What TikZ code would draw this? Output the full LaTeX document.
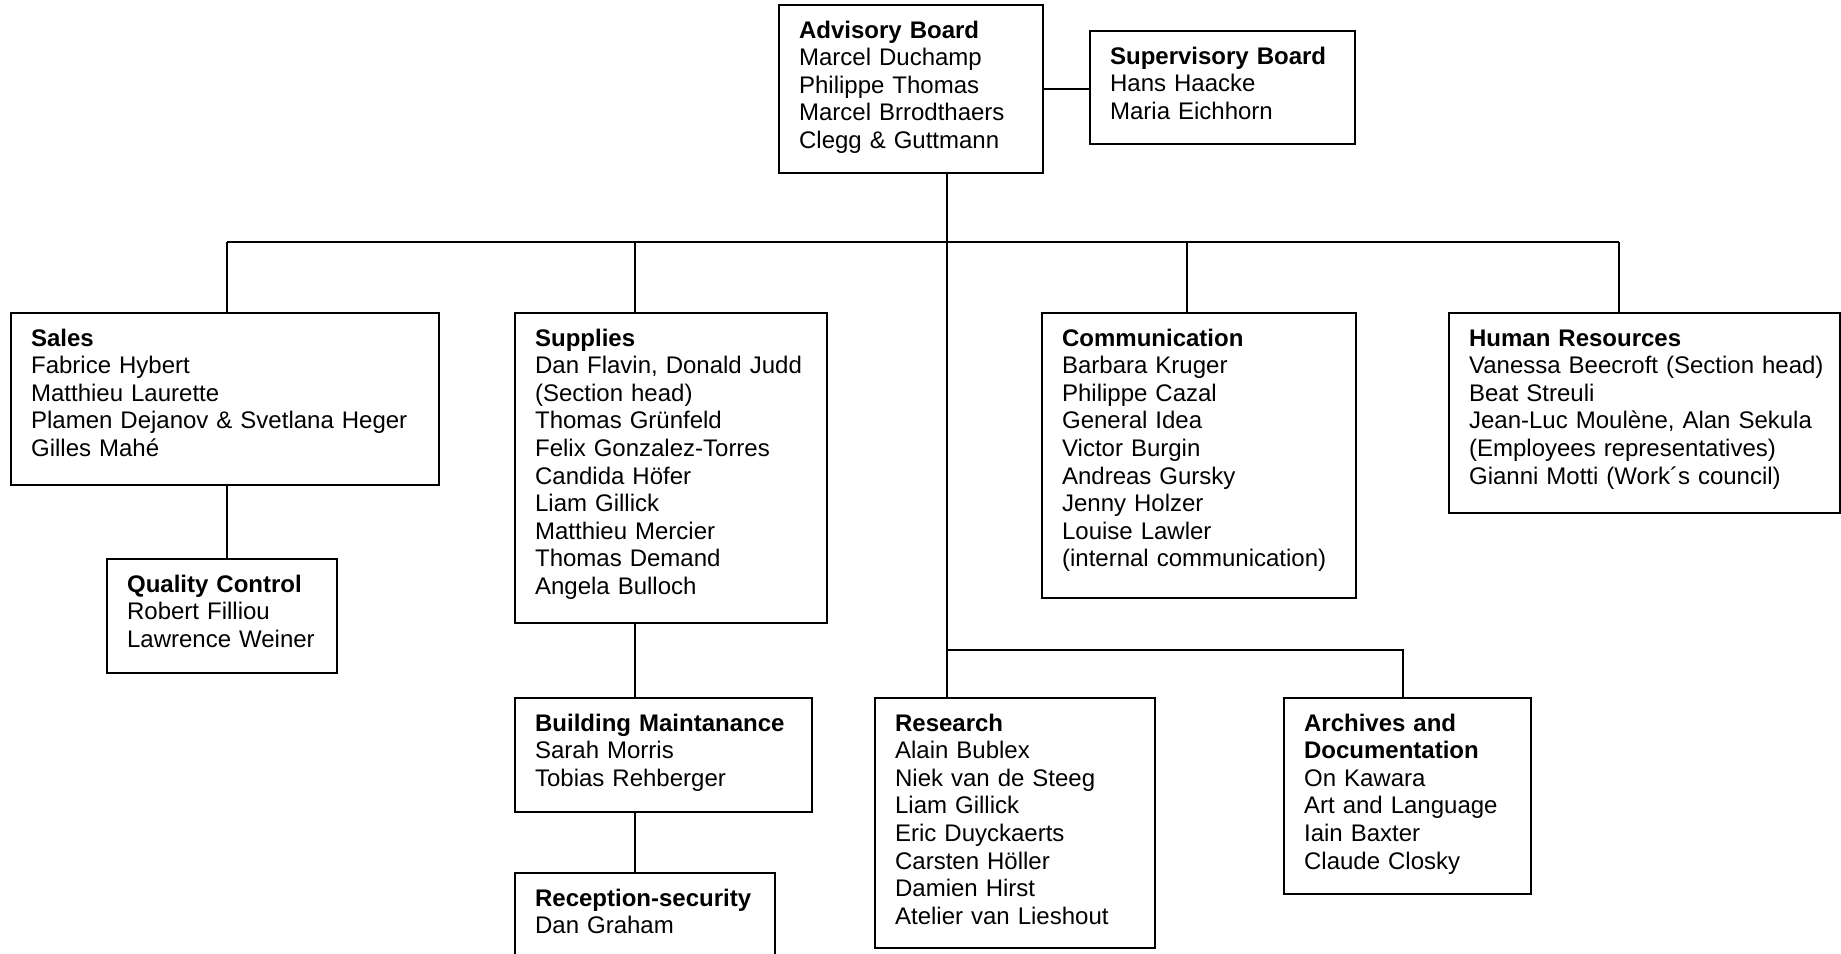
\documentclass[tikz,border=0pt]{standalone}
\usepackage{fontspec}
\setmainfont{Liberation Sans}
\usetikzlibrary{fit}
\begin{document}
\begin{tikzpicture}[x=0.5pt,y=-0.5pt,
    box/.style={draw,line width=0.9pt,inner sep=0pt,rectangle},
    txt/.style={anchor=base west,inner sep=0pt,text width=200pt,align=left,
      font=\fontsize{12pt}{13.8pt}\selectfont},
    link/.style={line width=0.7pt}]
    \useasboundingbox (0,0) rectangle (1841,953);
    \clip (0,0) rectangle (1841,953);
    % boxes
    \node[box,fit={(779,5) (1043,173)}] (adv) {};
    \node[box,fit={(1090,31) (1355,144)}] (sup) {};
    \node[box,fit={(11,313) (439,485)}] (sales) {};
    \node[box,fit={(515,313) (827,623)}] (supp) {};
    \node[box,fit={(1042,313) (1356,598)}] (comm) {};
    \node[box,fit={(1449,313) (1840,513)}] (hr) {};
    \node[box,fit={(107,559) (337,673)}] (qc) {};
    \node[box,fit={(515,698) (812,812)}] (bm) {};
    \node[box,fit={(515,873) (775,980)}] (rec) {};
    \node[box,fit={(875,698) (1155,948)}] (res) {};
    \node[box,fit={(1284,698) (1531,894)}] (arch) {};
    % texts
    \node[txt] (adv-t) at ([shift={(10.3pt,-17pt)}]adv.north west) {\textbf{Advisory Board}\\Marcel Duchamp\\Philippe Thomas\\Marcel Brrodthaers\\Clegg \& Guttmann};
    \node[txt] (sup-t) at ([shift={(10.3pt,-17pt)}]sup.north west) {\textbf{Supervisory Board}\\Hans Haacke\\Maria Eichhorn};
    \node[txt] (sales-t) at ([shift={(10.3pt,-17pt)}]sales.north west) {\textbf{Sales}\\Fabrice Hybert\\Matthieu Laurette\\Plamen Dejanov \& Svetlana Heger\\Gilles Mahé};
    \node[txt] (supp-t) at ([shift={(10.3pt,-17pt)}]supp.north west) {\textbf{Supplies}\\Dan Flavin, Donald Judd\\(Section head)\\Thomas Grünfeld\\Felix Gonzalez-Torres\\Candida Höfer\\Liam Gillick\\Matthieu Mercier\\Thomas Demand\\Angela Bulloch};
    \node[txt] (comm-t) at ([shift={(10.3pt,-17pt)}]comm.north west) {\textbf{Communication}\\Barbara Kruger\\Philippe Cazal\\General Idea\\Victor Burgin\\Andreas Gursky\\Jenny Holzer\\Louise Lawler\\(internal communication)};
    \node[txt] (hr-t) at ([shift={(10.3pt,-17pt)}]hr.north west) {\textbf{Human Resources}\\Vanessa Beecroft (Section head)\\Beat Streuli\\Jean-Luc Moulène, Alan Sekula\\(Employees representatives)\\Gianni Motti (Work´s council)};
    \node[txt] (qc-t) at ([shift={(10.3pt,-17pt)}]qc.north west) {\textbf{Quality Control}\\Robert Filliou\\Lawrence Weiner};
    \node[txt] (bm-t) at ([shift={(10.3pt,-17pt)}]bm.north west) {\textbf{Building Maintanance}\\Sarah Morris\\Tobias Rehberger};
    \node[txt] (rec-t) at ([shift={(10.3pt,-17pt)}]rec.north west) {\textbf{Reception-security}\\Dan Graham};
    \node[txt] (res-t) at ([shift={(10.3pt,-17pt)}]res.north west) {\textbf{Research}\\Alain Bublex\\Niek van de Steeg\\Liam Gillick\\Eric Duyckaerts\\Carsten Höller\\Damien Hirst\\Atelier van Lieshout};
    \node[txt] (arch-t) at ([shift={(10.3pt,-17pt)}]arch.north west) {\textbf{Archives and}\\\textbf{Documentation}\\On Kawara\\Art and Language\\Iain Baxter\\Claude Closky};
    % connectors
    \coordinate (d-sales) at (227,242);
    \coordinate (d-supp) at (635,242);
    \coordinate (d-comm) at (1187,242);
    \coordinate (d-hr) at (1619,242);
    \coordinate (d-trunk) at (947,650);
    \coordinate (d-arch) at (1403,650);
    \draw[link] (adv.east) -- (adv.east -| sup.west);
    \draw[link] (d-sales) -- (d-hr);
    \foreach \d/\b in {d-sales/sales,d-supp/supp,d-comm/comm,d-hr/hr}
      \draw[link] (\d) -- (\d |- \b.north);
    \draw[link] (adv.south -| d-trunk) -- (res.north -| d-trunk);
    \draw[link] (d-trunk) -- (d-arch) -- (d-arch |- arch.north);
    \draw[link] (sales.south -| d-sales) -- (qc.north -| d-sales);
    \draw[link] (supp.south -| d-supp) -- (bm.north -| d-supp);
    \draw[link] (bm.south -| d-supp) -- (rec.north -| d-supp);
\end{tikzpicture}
\end{document}
